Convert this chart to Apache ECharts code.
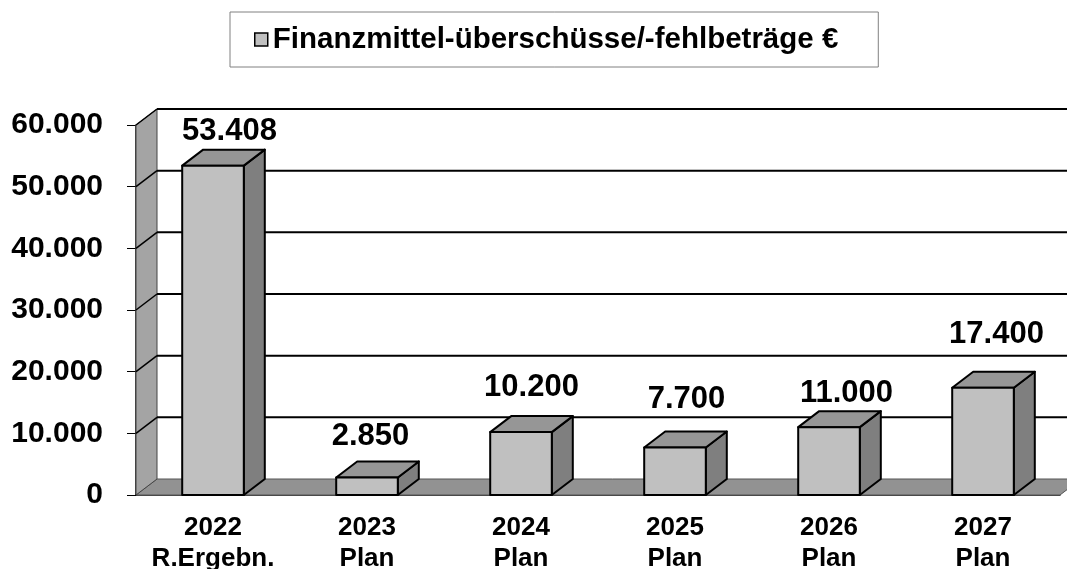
<!DOCTYPE html>
<html>
<head>
<meta charset="utf-8">
<script src="https://cdn.jsdelivr.net/npm/echarts@6/dist/echarts.min.js"></script>
<style>
  html, body { margin: 0; padding: 0; background: #fff; }
  #chart { width: 1067px; height: 569px; }
</style>
</head>
<body>
<div id="chart"></div>
<script>
// data
const seriesName = 'Finanzmittel-überschüsse/-fehlbeträge €';
const categories = ['2022\nR.Ergebn.', '2023\nPlan', '2024\nPlan', '2025\nPlan', '2026\nPlan', '2027\nPlan'];
const values = [53408, 2850, 10200, 7700, 11000, 17400];
const yMin = 0;
const yMax = 60000;
const yStep = 10000;

// pseudo 3D look (pixels)
const DX = 21;
const DY = -16;
const FONT = 'Liberation Sans, Arial, sans-serif';
const colors = {
    front: '#c0c0c0',
    top: '#969696',
    side: '#7f7f7f',
    wall: '#a4a4a4',
    floor: '#929292',
    line: '#000'
};
// hand-placed label nudges, like in the original sheet
const labelNudge = [[6, -18], [-7, -25], [0, -29], [1, -32], [7, -18], [3, -37]];

function fmt(v) {
    return String(v).replace(/\B(?=(\d{3})+(?!\d))/g, '.');
}

const chart = echarts.init(document.getElementById('chart'));

function renderFrame(params, api) {
    const band = api.size([1, 0])[0];
    const leftX = api.coord([0, yMin])[0] - band / 2;
    const rightX = api.coord([categories.length - 1, yMin])[0] + band / 2;
    const y0 = api.coord([0, yMin])[1];
    const yTop = api.coord([0, yMax])[1];
    const children = [
        {
            type: 'polygon',
            shape: { points: [[leftX + DX, y0 + DY], [rightX + DX, y0 + DY], [rightX, y0], [leftX, y0]] },
            style: { fill: colors.floor, stroke: '#555', lineWidth: 1 }
        },
        {
            type: 'polygon',
            shape: { points: [[leftX, y0], [leftX, yTop], [leftX + DX, yTop + DY], [leftX + DX, y0 + DY]] },
            style: { fill: colors.wall, stroke: '#444', lineWidth: 1 }
        }
    ];
    for (let t = yMin + yStep; t <= yMax; t += yStep) {
        const y = api.coord([0, t])[1];
        children.push({
            type: 'line',
            shape: { x1: leftX + DX, y1: y + DY, x2: rightX + DX, y2: y + DY },
            style: { stroke: colors.line, lineWidth: 2 }
        });
        children.push({
            type: 'line',
            shape: { x1: leftX, y1: y, x2: leftX + DX, y2: y + DY },
            style: { stroke: colors.line, lineWidth: 1.5 }
        });
    }
    return { type: 'group', children };
}

function renderBar(params, api) {
    const i = api.value(0);
    const v = api.value(1);
    const top = api.coord([i, v]);
    const base = api.coord([i, yMin]);
    const w = api.size([1, 0])[0] * 0.4;
    const x0 = top[0] - w / 2;
    const x1 = top[0] + w / 2;
    const yT = top[1];
    const yB = base[1];
    const edge = { stroke: colors.line, lineWidth: 2, lineJoin: 'round' };
    const nudge = labelNudge[i] || [0, -25];
    return {
        type: 'group',
        children: [
            {
                type: 'polygon',
                shape: { points: [[x1, yT], [x1 + DX, yT + DY], [x1 + DX, yB + DY], [x1, yB]] },
                style: Object.assign({ fill: colors.side }, edge)
            },
            {
                type: 'polygon',
                shape: { points: [[x0, yT], [x0 + DX, yT + DY], [x1 + DX, yT + DY], [x1, yT]] },
                style: Object.assign({ fill: colors.top }, edge)
            },
            {
                type: 'rect',
                shape: { x: x0, y: yT, width: w, height: yB - yT },
                style: Object.assign({ fill: colors.front }, edge)
            },
            {
                type: 'text',
                style: {
                    text: fmt(v),
                    x: top[0] + DX / 2 + nudge[0],
                    y: yT + DY + nudge[1],
                    align: 'center',
                    verticalAlign: 'middle',
                    fill: '#000',
                    font: 'bold 31px ' + FONT
                }
            }
        ]
    };
}

const option = {
    backgroundColor: '#fff',
    animation: false,
    textStyle: { fontFamily: FONT },
    legend: {
        data: [{
            name: seriesName,
            itemStyle: { color: colors.front, borderColor: '#000', borderWidth: 1.5 }
        }],
        left: 230,
        top: 12,
        icon: 'rect',
        itemWidth: 13,
        itemHeight: 13,
        itemGap: 5,
        padding: [12, 40, 12, 24],
        borderColor: '#808080',
        borderWidth: 1,
        selectedMode: false,
        textStyle: {
            color: '#000',
            fontWeight: 'bold',
            fontSize: 29.5,
            lineHeight: 31,
            fontFamily: FONT
        }
    },
    grid: {
        left: 136,
        right: 7,
        top: 125,
        bottom: 74,
        containLabel: false,
        outerBoundsMode: 'none'
    },
    xAxis: {
        type: 'category',
        data: categories,
        axisLine: { lineStyle: { color: '#000', width: 1.5 } },
        axisTick: { length: 9, lineStyle: { color: '#000', width: 1 } },
        axisLabel: {
            interval: 0,
            color: '#000',
            fontWeight: 'bold',
            fontSize: 26,
            lineHeight: 31,
            margin: 17,
            fontFamily: FONT
        },
        splitLine: { show: false }
    },
    yAxis: {
        type: 'value',
        min: yMin,
        max: yMax,
        interval: yStep,
        axisLine: { show: true, lineStyle: { color: '#000', width: 1.5 } },
        axisTick: { show: true, length: 9, lineStyle: { color: '#000', width: 1 } },
        axisLabel: {
            color: '#000',
            fontWeight: 'bold',
            fontSize: 30,
            margin: 33,
            fontFamily: FONT,
            formatter: fmt
        },
        splitLine: { show: false }
    },
    series: [
        {
            name: 'frame',
            type: 'custom',
            clip: false,
            silent: true,
            z: 1,
            renderItem: renderFrame,
            data: [[0, 0]]
        },
        {
            name: seriesName,
            type: 'custom',
            clip: false,
            z: 3,
            itemStyle: { color: colors.front, borderColor: '#000', borderWidth: 1.5 },
            renderItem: renderBar,
            data: values.map((v, i) => [i, v])
        }
    ]
};

chart.setOption(option);
window.addEventListener('resize', () => chart.resize());
</script>
</body>
</html>
